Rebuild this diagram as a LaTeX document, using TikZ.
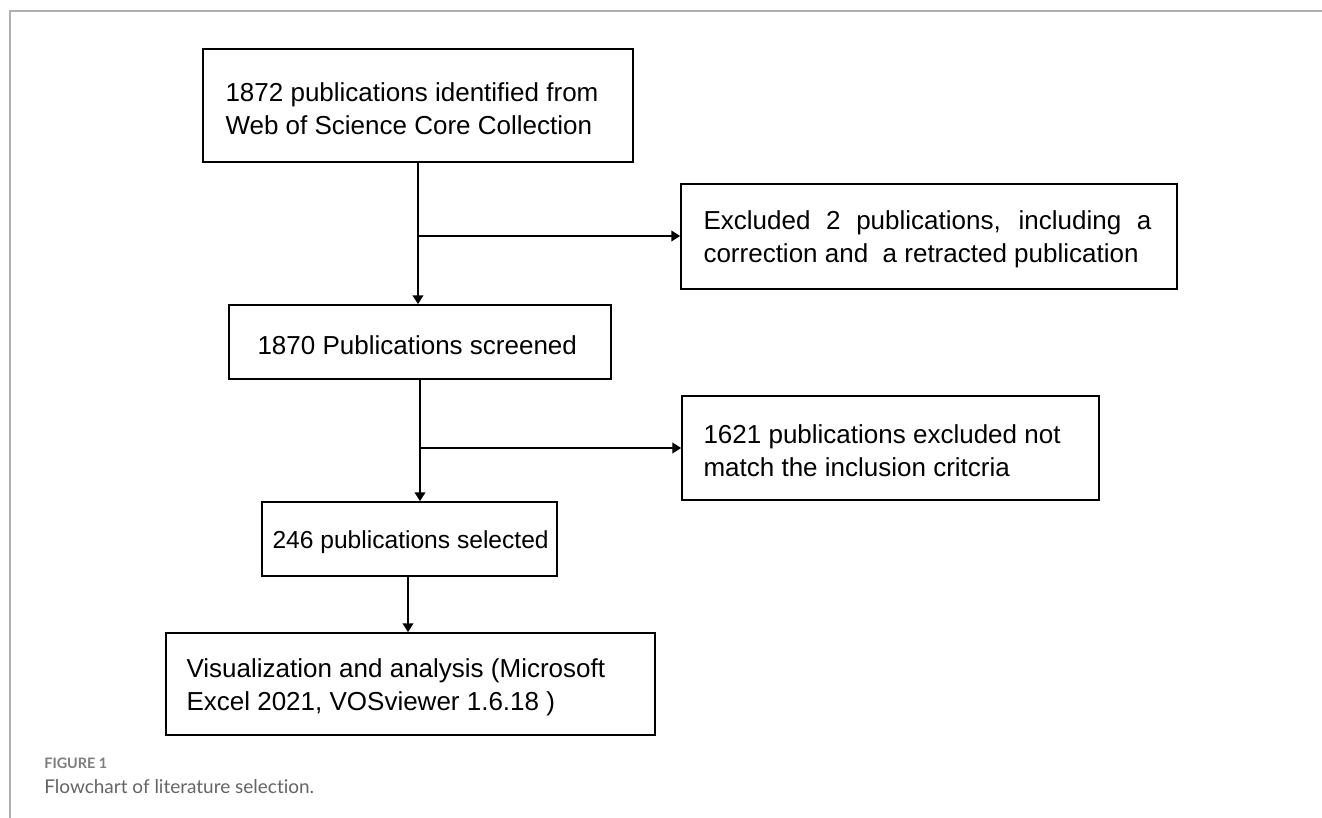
\documentclass[tikz,border=0pt]{standalone}
\usepackage{fontspec}
\setmainfont{Liberation Sans}
\newfontfamily\capfont[Ligatures=CommonOff]{Lato}
\usetikzlibrary{arrows.meta, positioning, calc}
\definecolor{framegray}{RGB}{175, 175, 175}
\definecolor{capgray}{RGB}{100, 100, 100}
\definecolor{labelgray}{RGB}{125, 125, 125}
\tikzset{
  stage/.style={draw=black, line width=1pt, rectangle, inner sep=0pt},
  stagetext/.style={anchor=west, inner sep=0pt, align=left, yshift=-0.06cm,
    font=\fontsize{14.8}{18.7}\selectfont},
  flow/.style={line width=1.1pt, -{Triangle[length=5pt, width=6pt]}}
}

\begin{document}
\begin{tikzpicture}[x=0.02cm, y=-0.02cm]
  \useasboundingbox (0,0) rectangle (1322,818);
  % frame
  \draw[framegray, line width=1pt] (10,818) -- (10,11) -- (1322,11);

  % main boxes
  \node[stage, minimum width=8.6cm, minimum height=2.26cm] (found) at (418,105.5) {};
  \node[stagetext, right=0.46cm of found.west] (foundtext)
    {1872 publications identified from\\Web of Science Core Collection};

  \node[stage, minimum width=7.64cm, minimum height=1.48cm] (screened) at (420,342) {};
  \node[stagetext, right=0.58cm of screened.west] (screenedtext) {1870 Publications screened};

  \node[stage, minimum width=5.9cm, minimum height=1.48cm] (selected) at (409.5,539) {};
  \node[stagetext, right=0.22cm of selected.west, font=\fontsize{14}{18.7}\selectfont] (selectedtext)
    {246 publications selected};

  \node[stage, minimum width=9.78cm, minimum height=2.04cm] (analysis) at (410.5,684) {};
  \node[stagetext, right=0.42cm of analysis.west] (analysistext)
    {Visualization and analysis (Microsoft\\Excel 2021, VOSviewer 1.6.18 )};

  % exclusion boxes
  \node[stage, minimum width=9.92cm, minimum height=2.1cm] (excl1) at (929,236.5) {};
  \node[stagetext, right=0.46cm of excl1.west, text width=8.96cm, align=justify] (excl1text)
    {Excluded 2 publications, including a\linebreak correction and~~a retracted publication};

  \node[stage, minimum width=8.34cm, minimum height=2.08cm] (excl2) at (890.5,448) {};
  \node[stagetext, right=0.44cm of excl2.west] (excl2text)
    {1621 publications excluded not\\match the inclusion critcria};

  % connectors
  \coordinate (j1) at (418,236);
  \coordinate (j2) at (420,448);
  \coordinate (j3) at (408,577);
  \draw[flow] (found.south -| j1) -- (screened.north -| j1);
  \draw[flow] (j1) -- (j1 -| excl1.west);
  \draw[flow] (screened.south -| j2) -- (selected.north -| j2);
  \draw[flow] (j2) -- (j2 -| excl2.west);
  \draw[flow] (selected.south -| j3) -- (analysis.north -| j3);

  % caption
  \node[anchor=base west, inner sep=0pt, text=labelgray, font=\capfont\fontsize{8.2}{10}\selectfont\bfseries] (figlabel) at (44,768) {FIGURE 1};
  \node[anchor=base west, inner sep=0pt, text=capgray, font=\capfont\fontsize{10.8}{13}\selectfont] (figcaption) at (44,793) {Flowchart of literature selection.};
\end{tikzpicture}
\end{document}
